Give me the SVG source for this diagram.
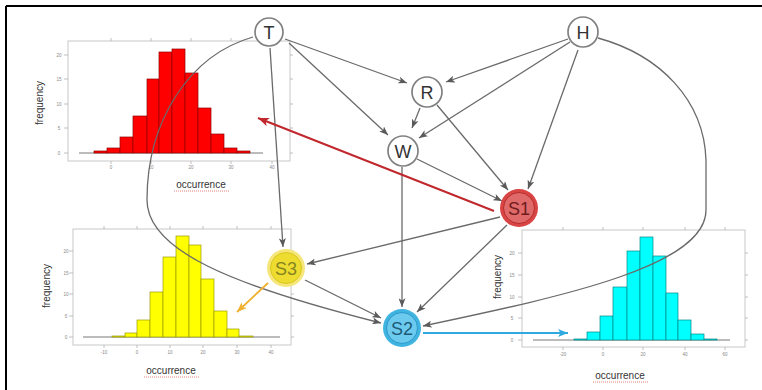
<svg xmlns="http://www.w3.org/2000/svg" width="762" height="390" viewBox="0 0 762 390">
<defs>
<style>
.frame{fill:none;stroke:#c8c8c8;stroke-width:1}
.tick{stroke:#b0b0b0;stroke-width:0.8}
.base{stroke:#555;stroke-width:0.8}
.tl{font-family:"Liberation Sans",Arial,sans-serif;font-size:4.5px;fill:#888;text-anchor:middle}
.ax{font-family:"Liberation Sans",Arial,sans-serif;font-size:10px;fill:#333;text-anchor:middle}
.sq{stroke:#e06060;stroke-width:0.8;stroke-dasharray:1 1;fill:none}
.rb{fill:#ff0000;stroke:#900000;stroke-width:0.7}
.yb{fill:#ffff00;stroke:#9a9a00;stroke-width:0.7}
.cb{fill:#00ffff;stroke:#008888;stroke-width:0.7}
.edge{fill:none;stroke:#6a6a6a;stroke-width:1.3}
.nd{fill:#fff;stroke:#808080;stroke-width:1.7}
.lb{font-family:"Liberation Sans",Arial,sans-serif;font-size:18px;text-anchor:middle;dominant-baseline:central}
</style>
<marker id="ag" viewBox="0 0 10 8" refX="10" refY="4" markerWidth="9" markerHeight="7" markerUnits="userSpaceOnUse" orient="auto"><path d="M0,0 L10,4 L0,8 L2.5,4 z" fill="#5a5a5a"/></marker>
<marker id="ar" viewBox="0 0 10 8" refX="10" refY="4" markerWidth="11" markerHeight="9" markerUnits="userSpaceOnUse" orient="auto"><path d="M0,0 L10,4 L0,8 L2.5,4 z" fill="#c0282d"/></marker>
<marker id="ay" viewBox="0 0 10 8" refX="10" refY="4" markerWidth="10" markerHeight="8" markerUnits="userSpaceOnUse" orient="auto"><path d="M0,0 L10,4 L0,8 L2.5,4 z" fill="#f0b030"/></marker>
<marker id="ab" viewBox="0 0 10 8" refX="10" refY="4" markerWidth="10" markerHeight="8" markerUnits="userSpaceOnUse" orient="auto"><path d="M0,0 L10,4 L0,8 L2.5,4 z" fill="#30a8e0"/></marker>
</defs>
<rect x="0" y="0" width="762" height="390" fill="#fff"/>
<path d="M6,6 L762,6 M6,6 L6,390" stroke="#000" stroke-width="2" fill="none"/>

<!-- Red histogram -->
<g id="hist-red">
<rect class="frame" x="68" y="41" width="222" height="120"/>
<path class="tick" d="M68,153 h-4 M68,128 h-4 M68,104 h-4 M68,79 h-4 M68,55 h-4 M111,161 v3 M151,161 v3 M191,161 v3 M231,161 v3 M272,161 v3 M111,41 v-3 M151,41 v-3 M191,41 v-3 M231,41 v-3 M272,41 v-3 M290,153 h3 M290,128 h3 M290,104 h3 M290,79 h3 M290,55 h3"/>
<text class="tl" x="59" y="155">0</text><text class="tl" x="59" y="130">5</text><text class="tl" x="59" y="106">10</text><text class="tl" x="59" y="81">15</text><text class="tl" x="59" y="57">20</text>
<text class="tl" x="111" y="169">0</text><text class="tl" x="151" y="169">10</text><text class="tl" x="191" y="169">20</text><text class="tl" x="231" y="169">30</text><text class="tl" x="272" y="169">40</text>
<line class="base" x1="79" y1="153" x2="263" y2="153"/>
<rect class="rb" x="94" y="151" width="13" height="2"/>
<rect class="rb" x="107" y="148" width="13" height="5"/>
<rect class="rb" x="120" y="137" width="13" height="16"/>
<rect class="rb" x="133" y="116" width="14" height="37"/>
<rect class="rb" x="147" y="79" width="12" height="74"/>
<rect class="rb" x="159" y="52" width="13" height="101"/>
<rect class="rb" x="172" y="49" width="13" height="104"/>
<rect class="rb" x="185" y="73" width="13" height="80"/>
<rect class="rb" x="198" y="108" width="13" height="45"/>
<rect class="rb" x="211" y="134" width="13" height="19"/>
<rect class="rb" x="224" y="148" width="13" height="5"/>
<rect class="rb" x="237" y="151" width="13" height="2"/>
<text class="ax" transform="translate(43,103) rotate(-90)">frequency</text>
<text class="ax" x="201" y="188" font-size="10.5">occurrence</text>
<line class="sq" x1="174" y1="191" x2="229" y2="191"/>
</g>

<!-- Yellow histogram -->
<g id="hist-yellow">
<rect class="frame" x="73" y="229" width="218" height="116"/>
<path class="tick" d="M73,337 h-4 M73,316 h-4 M73,294 h-4 M73,273 h-4 M73,251 h-4 M104,345 v3 M137,345 v3 M170,345 v3 M203,345 v3 M237,345 v3 M271,345 v3 M104,229 v-3 M137,229 v-3 M170,229 v-3 M203,229 v-3 M237,229 v-3 M271,229 v-3 M291,337 h3 M291,316 h3 M291,294 h3 M291,273 h3 M291,251 h3"/>
<text class="tl" x="66" y="339">0</text><text class="tl" x="66" y="318">5</text><text class="tl" x="66" y="296">10</text><text class="tl" x="66" y="275">15</text><text class="tl" x="66" y="253">20</text>
<text class="tl" x="104" y="354">-10</text><text class="tl" x="137" y="354">0</text><text class="tl" x="170" y="354">10</text><text class="tl" x="203" y="354">20</text><text class="tl" x="237" y="354">30</text><text class="tl" x="271" y="354">40</text>
<line class="base" x1="83" y1="337" x2="280" y2="337"/>
<rect class="yb" x="112" y="336" width="13" height="1"/>
<rect class="yb" x="125" y="333" width="12" height="4"/>
<rect class="yb" x="137" y="320" width="13" height="17"/>
<rect class="yb" x="150" y="292" width="13" height="45"/>
<rect class="yb" x="163" y="257" width="13" height="80"/>
<rect class="yb" x="176" y="236" width="13" height="101"/>
<rect class="yb" x="189" y="245" width="12" height="92"/>
<rect class="yb" x="201" y="279" width="13" height="58"/>
<rect class="yb" x="214" y="311" width="13" height="26"/>
<rect class="yb" x="227" y="329" width="12" height="8"/>
<rect class="yb" x="239" y="336" width="14" height="1"/>
<text class="ax" transform="translate(50,286) rotate(-90)">frequency</text>
<text class="ax" x="171" y="374" font-size="10.5">occurrence</text>
<line class="sq" x1="144" y1="377" x2="199" y2="377"/>
</g>

<!-- Cyan histogram -->
<g id="hist-cyan">
<rect class="frame" x="522" y="230" width="223" height="117"/>
<path class="tick" d="M522,340 h-4 M522,318 h-4 M522,297 h-4 M522,275 h-4 M522,253 h-4 M563,347 v3 M603,347 v3 M643,347 v3 M685,347 v3 M725,347 v3 M563,230 v-3 M603,230 v-3 M643,230 v-3 M685,230 v-3 M725,230 v-3 M745,340 h3 M745,318 h3 M745,297 h3 M745,275 h3 M745,253 h3"/>
<text class="tl" x="512" y="342">0</text><text class="tl" x="512" y="320">5</text><text class="tl" x="512" y="299">10</text><text class="tl" x="512" y="277">15</text><text class="tl" x="512" y="255">20</text>
<text class="tl" x="563" y="356">-20</text><text class="tl" x="603" y="356">0</text><text class="tl" x="643" y="356">20</text><text class="tl" x="685" y="356">40</text><text class="tl" x="725" y="356">60</text>
<line class="base" x1="533" y1="340" x2="730" y2="340"/>
<rect class="cb" x="574" y="339" width="13" height="1"/>
<rect class="cb" x="587" y="332" width="13" height="8"/>
<rect class="cb" x="600" y="316" width="13" height="24"/>
<rect class="cb" x="613" y="287" width="14" height="53"/>
<rect class="cb" x="627" y="251" width="13" height="89"/>
<rect class="cb" x="640" y="237" width="13" height="103"/>
<rect class="cb" x="653" y="256" width="13" height="84"/>
<rect class="cb" x="666" y="293" width="12" height="47"/>
<rect class="cb" x="678" y="320" width="13" height="20"/>
<rect class="cb" x="691" y="334" width="13" height="6"/>
<rect class="cb" x="704" y="339" width="13" height="1"/>
<text class="ax" transform="translate(501,277) rotate(-90)">frequency</text>
<text class="ax" x="620" y="379" font-size="10.5">occurrence</text>
<line class="sq" x1="593" y1="382" x2="648" y2="382"/>
</g>

<!-- Connectors -->
<g id="connectors">
<path class="edge" d="M285,39 L407,83" marker-end="url(#ag)"/>
<path class="edge" d="M289,43 L388,135" marker-end="url(#ag)"/>
<path class="edge" d="M270,48 L283,247" marker-end="url(#ag)"/>
<path class="edge" d="M568,39 L446,82" marker-end="url(#ag)"/>
<path class="edge" d="M570,42 L419,138" marker-end="url(#ag)"/>
<path class="edge" d="M578,50 L528,189" marker-end="url(#ag)"/>
<path class="edge" d="M420,108 L412,128" marker-end="url(#ag)"/>
<path class="edge" d="M437,105 L508,190" marker-end="url(#ag)"/>
<path class="edge" d="M417,159 L502,201" marker-end="url(#ag)"/>
<path class="edge" d="M402,167 L402,307" marker-end="url(#ag)"/>
<path class="edge" d="M500,217 L307,264" marker-end="url(#ag)"/>
<path class="edge" d="M507,225 L417,312" marker-end="url(#ag)"/>
<path class="edge" d="M305,280 L381,318" marker-end="url(#ag)"/>
<path class="edge" d="M253,37 C190,55 147,120 147,200 C147,250 230,285 381,323" marker-end="url(#ag)"/>
<path class="edge" d="M598,38 C660,55 704,100 706,160 L706,210 C706,265 570,295 423,326" marker-end="url(#ag)"/>
<path d="M494,211 L258,118" fill="none" stroke="#c0282d" stroke-width="2" marker-end="url(#ar)"/>
<path d="M268,283 L237,312" fill="none" stroke="#f0b030" stroke-width="1.8" marker-end="url(#ay)"/>
<path d="M423,333 L568,333" fill="none" stroke="#30a8e0" stroke-width="1.8" marker-end="url(#ab)"/>
</g>

<!-- Nodes -->
<g id="node-T"><circle class="nd" cx="269" cy="32" r="14"/><text class="lb" x="269" y="33" fill="#333">T</text></g>
<g id="node-H"><circle class="nd" cx="583" cy="32" r="15"/><text class="lb" x="583" y="33" fill="#333">H</text></g>
<g id="node-R"><circle class="nd" cx="427" cy="92" r="15"/><text class="lb" x="427" y="93" fill="#333">R</text></g>
<g id="node-W"><circle class="nd" cx="403" cy="151" r="15"/><text class="lb" x="403" y="152" fill="#333">W</text></g>
<g id="node-S1"><circle cx="519" cy="208" r="19" fill="#d94545"/><circle cx="519" cy="208" r="15.5" fill="#e06a6a" stroke="#b82a2a" stroke-width="1"/><text class="lb" x="519" y="209" fill="#6e1c1c">S1</text></g>
<g id="node-S3"><circle cx="286" cy="268" r="19" fill="#f6e67a"/><circle cx="286" cy="268" r="15.5" fill="#eedd30" stroke="#d8c820" stroke-width="1"/><text class="lb" x="286" y="269" fill="#868420">S3</text></g>
<g id="node-S2"><circle cx="402" cy="328" r="19" fill="#40b4e0"/><circle cx="402" cy="328" r="15.5" fill="#6ccaee" stroke="#2a98c8" stroke-width="1"/><text class="lb" x="402" y="329" fill="#1c5a78">S2</text></g>
</svg>
